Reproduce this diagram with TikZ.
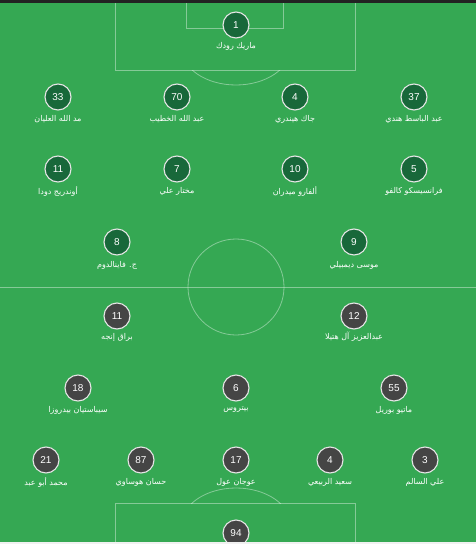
\documentclass[tikz,border=0pt]{standalone}
\usepackage{fontspec}
\setmainfont{Liberation Sans}
\newfontfamily\arabicfont[Script=Arabic]{DejaVu Sans}
\TeXXeTstate=1
\definecolor{pitch}{HTML}{35A853}
\definecolor{homec}{HTML}{18683A}
\definecolor{awayc}{HTML}{454545}
\definecolor{topbar}{HTML}{222222}
\definecolor{botbar}{HTML}{F1F1F1}
\newcommand{\arname}[1]{{\arabicfont\beginR #1\endR}}
\tikzset{
  pline/.style={draw=white, draw opacity=0.4, line width=0.8pt},
  player/.style={circle, draw=white!90!black, line width=1.1pt, minimum size=26pt, inner sep=0pt, text=white, font=\fontsize{10}{12}\selectfont},
  home/.style={player, fill=homec},
  away/.style={player, fill=awayc},
  plabel/.style={text=white, font=\fontsize{8}{9.5}\selectfont, inner sep=0pt},
}
\begin{document}
\begin{tikzpicture}[x=1pt,y=-1pt]
\useasboundingbox (0,0) rectangle (476,544);
\fill[pitch] (0,0) rectangle (476,544);
% pitch markings
\draw[pline] (115,0) -- (115,70) -- (355,70) -- (355,0);
\draw[pline] (186,0) -- (186,28) -- (283,28) -- (283,0);
\begin{scope}
  \clip (0,70) rectangle (476,200);
  \draw[pline] (236,48) ellipse [x radius=54.5, y radius=37];
\end{scope}
\draw[pline] (0,287) -- (476,287);
\draw[pline] (236,287) circle [radius=48];
\draw[pline] (115,544) -- (115,503) -- (355,503) -- (355,544);
\begin{scope}
  \clip (0,400) rectangle (476,503);
  \draw[pline] (236,525) ellipse [x radius=54.5, y radius=37];
\end{scope}
% home team
\node[home] (h1) at (236,25) {1};
\node[plabel] (h1l) at (236,46) {\arname{ماريك رودك}};
\node[home] (h33) at (58,97) {33};
\node[plabel] (h33l) at (58,119) {\arname{مد الله العليان}};
\node[home] (h70) at (177,97) {70};
\node[plabel] (h70l) at (177,119) {\arname{عبد الله الخطيب}};
\node[home] (h4) at (295,97) {4};
\node[plabel] (h4l) at (295,119) {\arname{جاك هيندري}};
\node[home] (h37) at (414,97) {37};
\node[plabel] (h37l) at (414,119) {\arname{عبد الباسط هندي}};
\node[home] (h11) at (58,169) {11};
\node[plabel] (h11l) at (58,191) {\arname{أوندريج دودا}};
\node[home] (h7) at (177,169) {7};
\node[plabel] (h7l) at (177,191) {\arname{مختار علي}};
\node[home] (h10) at (295,169) {10};
\node[plabel] (h10l) at (295,191) {\arname{ألفارو ميدران}};
\node[home] (h5) at (414,169) {5};
\node[plabel] (h5l) at (414,191) {\arname{فرانسيسكو كالفو}};
\node[home] (h8) at (117,242) {8};
\node[plabel] (h8l) at (117,265) {\arname{ج. فاينالدوم}};
\node[home] (h9) at (354,242) {9};
\node[plabel] (h9l) at (354,265) {\arname{موسى ديمبيلي}};
% away team
\node[away] (a11) at (117,316) {11};
\node[plabel] (a11l) at (117,337) {\arname{براق إنجه}};
\node[away] (a12) at (354,316) {12};
\node[plabel] (a12l) at (354,337) {\arname{عبدالعزيز آل هتيلا}};
\node[away] (a18) at (78,388) {18};
\node[plabel] (a18l) at (78,410) {\arname{سيباستيان بيدروزا}};
\node[away] (a6) at (236,388) {6};
\node[plabel] (a6l) at (236,410) {\arname{بيتروس}};
\node[away] (a55) at (394,388) {55};
\node[plabel] (a55l) at (394,410) {\arname{ماتيو بوريل}};
\node[away] (a21) at (46,460) {21};
\node[plabel] (a21l) at (46,482) {\arname{محمد أبو عبد}};
\node[away] (a87) at (141,460) {87};
\node[plabel] (a87l) at (141,482) {\arname{حسان هوساوي}};
\node[away] (a17) at (236,460) {17};
\node[plabel] (a17l) at (236,482) {\arname{عوجان عول}};
\node[away] (a4) at (330,460) {4};
\node[plabel] (a4l) at (330,482) {\arname{سعيد الربيعي}};
\node[away] (a3) at (425,460) {3};
\node[plabel] (a3l) at (425,482) {\arname{علي السالم}};
\node[away] (a94) at (236,533) {94};
% bars
\fill[topbar] (0,0) rectangle (476,3);
\fill[botbar] (0,542) rectangle (476,544);
\end{tikzpicture}
\end{document}
